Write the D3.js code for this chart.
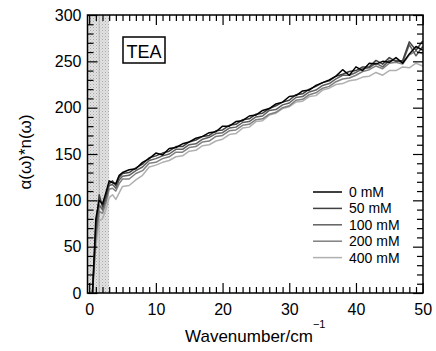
<!DOCTYPE html>
<html><head><meta charset="utf-8">
<script src="https://cdn.jsdelivr.net/npm/d3@7"></script>
<style>body{margin:0;background:#fff}svg{display:block}text{font-family:"Liberation Sans",Arial,sans-serif}</style>
</head><body>
<svg id="c" width="436" height="351"></svg>
<script>
const xs = [0.5,1,1.5,2,2.5,3,3.5,4,4.5,5,6,7,8,9,10,11,12,13,14,15,16,17,18,19,20,21,22,23,24,25,26,27,28,29,30,31,32,33,34,35,36,37,38,39,40,41,42,43,44,45,46,47,48,49,50];
const s0   = [0,80,100,96,108,121,119,118,127,130,133,134,141,145,151,149,156,157,161,163,167,169,173,174,180,180,185,186,191,192,197,199,204,206,212,213,218,219,224,227,230,234,241,235,244,240,248,247,250,249,254,248,258,266,262];
const s50  = [0,72,106,93,104,118,121,116,125,129,130,135,139,146,148,151,153,158,158,163,165,169,170,175,176,181,182,187,188,193,194,199,202,206,208,214,215,220,223,227,229,234,236,239,240,244,244,251,247,254,250,251,271,262,272];
const s100 = [0,65,95,90,101,116,117,113,122,126,127,132,136,143,145,148,150,155,155,160,161,166,168,172,173,178,179,184,185,190,191,197,198,203,205,211,212,217,219,224,226,231,235,235,238,242,243,248,244,251,251,249,268,256,266];
const s200 = [0,58,88,86,97,112,113,110,118,123,123,129,132,140,141,145,147,152,152,157,158,163,164,169,170,175,176,181,182,187,188,193,195,200,202,208,209,214,216,221,223,228,231,232,235,239,241,245,242,248,249,247,257,261,258];
const s400 = [0,50,78,80,90,103,106,101,108,115,116,122,127,136,138,141,143,147,148,153,154,159,160,164,166,171,172,178,179,185,186,192,194,199,201,206,207,212,213,219,221,225,226,229,230,233,234,238,235,240,240,244,243,248,245];
const seriesNames = ["0 mM","50 mM","100 mM","200 mM","400 mM"];
const seriesColors = ["#000000","#404040","#606060","#808080","#b0b0b0"];
const seriesVals = [s0,s50,s100,s200,s400];
const xMajor = [0,10,20,30,40,50];
const yMajor = [0,50,100,150,200,250,300];

const L=87.5,R=423,T=15,B=293;
const svg=d3.select("#c");
const x=d3.scaleLinear().domain([-0.25,50.05]).range([L,R]);
const y=d3.scaleLinear().domain([0,300]).range([B,T]);

// shaded region pattern
const defs=svg.append("defs");
const pat=defs.append("pattern").attr("id","dots").attr("patternUnits","userSpaceOnUse").attr("width",3).attr("height",3);
pat.append("rect").attr("width",3).attr("height",3).attr("fill","#e2e2e2");
pat.append("rect").attr("width",1).attr("height",1).attr("fill","#a8a8a8");
pat.append("rect").attr("x",1.5).attr("y",1.5).attr("width",1).attr("height",1).attr("fill","#c0c0c0");
svg.append("rect").attr("x",L).attr("y",T).attr("width",x(3)-L).attr("height",B-T).attr("fill","url(#dots)");
svg.append("line").attr("x1",x(1.5)).attr("x2",x(1.5)).attr("y1",T).attr("y2",B).attr("stroke","#aaa").attr("stroke-width",0.8);

// lines
const line=d3.line().x((d,i)=>x(xs[i])).y(d=>y(d));
for(let k=seriesVals.length-1;k>=0;k--){
  svg.append("path").datum(seriesVals[k]).attr("d",line).attr("fill","none")
    .attr("stroke",seriesColors[k]).attr("stroke-width",1.5).attr("stroke-linejoin","round");
}

// axes with inward ticks
const xMinor=d3.range(0,51,1).filter(v=>v%10!==0);
const yMinor=d3.range(0,301,10).filter(v=>v%50!==0);
function ax(gen,vals,len,tx){
  const g=svg.append("g").attr("transform",tx).call(gen.tickValues(vals).tickSize(len).tickFormat(""));
  g.select(".domain").remove();
  g.selectAll("line").attr("stroke","#000").attr("stroke-width",1.2);
  return g;
}
ax(d3.axisTop(x),xMajor,10,`translate(0,${B})`);
ax(d3.axisTop(x),xMinor,6,`translate(0,${B})`);
ax(d3.axisBottom(x),xMajor,10,`translate(0,${T})`);
ax(d3.axisBottom(x),xMinor,6,`translate(0,${T})`);
ax(d3.axisRight(y),yMajor,10,`translate(${L},0)`);
ax(d3.axisRight(y),yMinor,6,`translate(${L},0)`);
ax(d3.axisLeft(y),yMajor,10,`translate(${R},0)`);
ax(d3.axisLeft(y),yMinor,6,`translate(${R},0)`);

// tick labels
const xl=svg.append("g").attr("transform",`translate(0,${B})`).call(d3.axisBottom(x).tickValues(xMajor).tickSize(0).tickPadding(11).tickFormat(d3.format("d")));
xl.select(".domain").remove();
xl.selectAll("text").attr("font-size",16).attr("fill","#000").style("font-family","Liberation Sans, Arial, sans-serif");
const yl=svg.append("g").attr("transform",`translate(${L},0)`).call(d3.axisLeft(y).tickValues(yMajor).tickSize(0).tickPadding(6).tickFormat(d3.format("d")));
yl.select(".domain").remove();
yl.selectAll("text").attr("font-size",16).attr("fill","#000").style("font-family","Liberation Sans, Arial, sans-serif");

// frame
svg.append("rect").attr("x",L).attr("y",T).attr("width",R-L).attr("height",B-T).attr("fill","none").attr("stroke","#000").attr("stroke-width",1.5);

// TEA box
svg.append("rect").attr("x",123).attr("y",37).attr("width",42).attr("height",26).attr("fill","#fff").attr("stroke","#000").attr("stroke-width",1.5);
svg.append("text").attr("x",144).attr("y",57.5).attr("text-anchor","middle").attr("font-size",18).text("TEA");

// legend
const lg=svg.append("g");
seriesNames.forEach((n,i)=>{
  const yy=192+i*16.4;
  lg.append("line").attr("x1",313).attr("x2",342).attr("y1",yy).attr("y2",yy).attr("stroke",seriesColors[i]).attr("stroke-width",1.5);
  lg.append("text").attr("x",349).attr("y",yy+5).attr("font-size",14).text(n);
});

// axis titles
const xt=svg.append("text").attr("x",(L+R)/2).attr("y",342).attr("text-anchor","middle").attr("font-size",17);
xt.append("tspan").text("Wavenumber/cm");
xt.append("tspan").attr("dy",-14).attr("font-size",11).text("−1");
svg.append("text").attr("transform","translate(31,152) rotate(-90)").attr("text-anchor","middle").attr("font-size",17).text("α(ω)*n(ω)");
</script>
</body></html>
